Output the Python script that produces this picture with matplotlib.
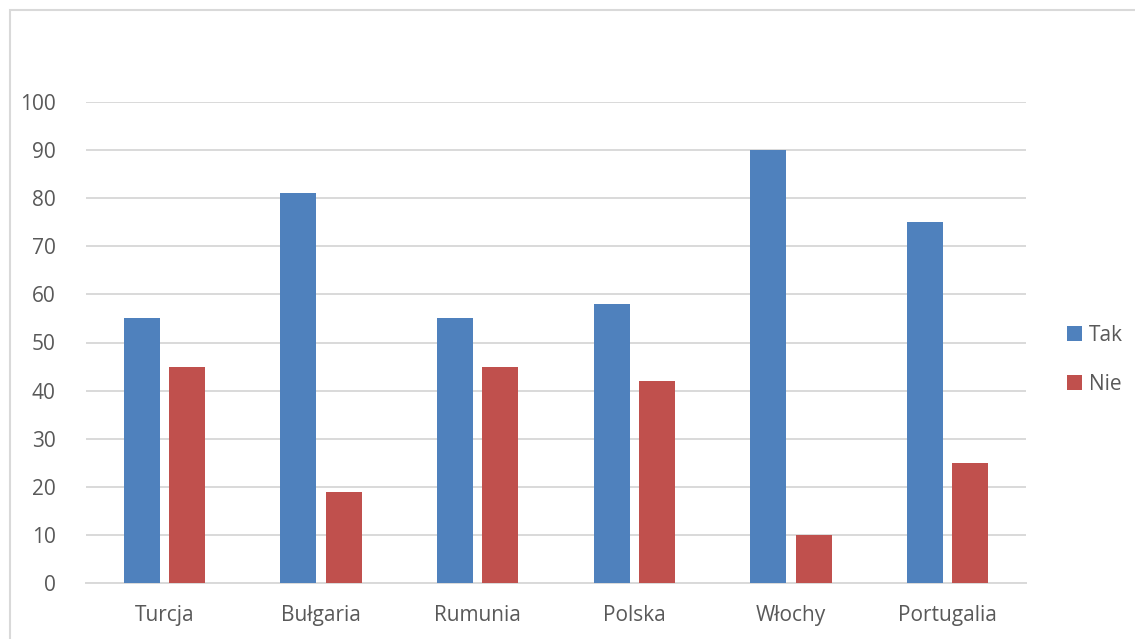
import matplotlib
matplotlib.use("Agg")
import matplotlib.pyplot as plt
import numpy as np
from matplotlib.patches import Rectangle

categories = ["Turcja", "Bułgaria", "Rumunia", "Polska", "Włochy", "Portugalia"]
tak = [55, 81, 55, 58, 90, 75]
nie = [45, 19, 45, 42, 10, 25]
series_names = ["Tak", "Nie"]
colors = ["#4F81BD", "#C0504D"]
yticks = list(range(0, 101, 10))

plt.rcParams["font.family"] = ["Open Sans", "DejaVu Sans"]
text_color = "#595959"
grid_color = "#D9D9D9"

fig = plt.figure(figsize=(11.35, 6.39), dpi=100)
ax = fig.add_axes([86 / 1135, 1 - 583 / 639, 940 / 1135, 481 / 639])

x = np.arange(len(categories))
width = 0.23
offset = 0.144
ax.bar(x - offset, tak, width, color=colors[0], label=series_names[0], zorder=3)
ax.bar(x + offset, nie, width, color=colors[1], label=series_names[1], zorder=3)

ax.set_xlim(-0.5, len(categories) - 0.5)
ax.set_ylim(0, 100)
ax.set_yticks(yticks)
ax.set_xticks(x)
ax.set_xticklabels(categories)
ax.yaxis.grid(True, color=grid_color, linewidth=1.4, zorder=0)
ax.set_axisbelow(True)
for side in ["top", "right", "left"]:
    ax.spines[side].set_visible(False)
ax.spines["bottom"].set_color(grid_color)
ax.spines["bottom"].set_linewidth(1.4)
ax.tick_params(axis="both", length=0, labelsize=15, colors=text_color)
ax.tick_params(axis="y", pad=22)
ax.tick_params(axis="x", pad=16)

leg = fig.legend(loc="center left", bbox_to_anchor=(1067 / 1135, 1 - 360 / 639),
                 frameon=False, fontsize=15, handlelength=0.7, handleheight=0.7,
                 handletextpad=0.35, labelspacing=1.35, labelcolor=text_color,
                 borderpad=0, borderaxespad=0)

# outer chart frame
fig.patches.append(Rectangle((9.5 / 1135, -0.01), 1.2, 1 - 9.5 / 639 + 0.01,
                             transform=fig.transFigure, fill=False,
                             edgecolor=grid_color, linewidth=1.5))

fig.savefig("out.png", dpi=100)
